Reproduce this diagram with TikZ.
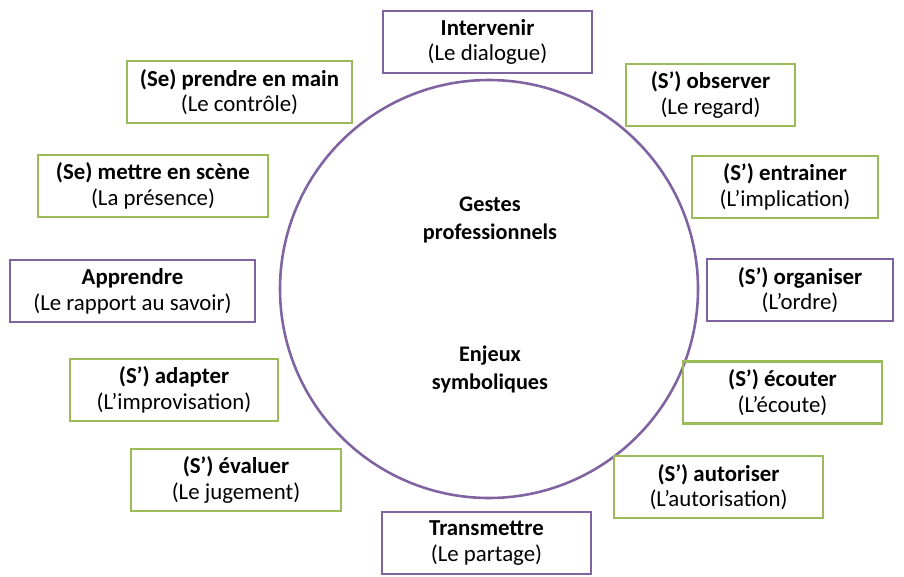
\documentclass[tikz,border=0pt]{standalone}
\usepackage{fontspec}
\setmainfont{Carlito}
\definecolor{violet}{RGB}{128,100,162}
\definecolor{vert}{RGB}{155,187,89}
\tikzset{
  geste/.style={shape=rectangle, line width=1.9pt, align=center, inner sep=0pt,
    minimum height=53pt, font=\fontsize{19.5}{22}\selectfont},
  gv/.style={geste, draw=violet},
  gg/.style={geste, draw=vert}
}
\begin{document}
\begin{tikzpicture}[x=0.03cm, y=-0.03cm]
%%%%%%%%%%%%%%%%%%%%%%%%%%%%%%%%%%%%%%%%%%% HELP LINES
%\draw[help lines] (0,0) grid +(904,576);
\useasboundingbox (0,0) rectangle (904,576);

%%%%%%%%%%%%%%%%%%%%%%%%%%%%%%%%%%%%%%%%%%% cercle
\node[circle, draw=violet, line width=2.2pt, minimum size=418*0.03cm, inner sep=0pt](cercle) at (489,289){};
\node[align=center, font=\fontsize{19}{24}\selectfont\bfseries](gestes) at (490,220){Gestes\\professionnels};
\node[align=center, font=\fontsize{19}{24}\selectfont\bfseries](enjeux) at (490,369){Enjeux\\symboliques};

%%%%% gestes (violet)
\node[gv, minimum width=209*0.03cm](intervenir) at (487.5,42){\textbf{Intervenir}\\(Le dialogue)};
\node[gv, minimum width=245*0.03cm](apprendre) at (132.5,291){\textbf{Apprendre}\\(Le rapport au savoir)};
\node[gv, minimum width=186*0.03cm](organiser) at (800,290){\textbf{(S’) organiser}\\(L’ordre)};
\node[gv, minimum width=209*0.03cm](transmettre) at (486.5,543){\textbf{Transmettre}\\(Le partage)};

%%%%% gestes (vert)
\node[gg, minimum width=225*0.03cm](prendre) at (239.5,92){\textbf{(Se) prendre en main}\\(Le contrôle)};
\node[gg, minimum width=169*0.03cm](observer) at (710.5,95){\textbf{(S’) observer}\\(Le regard)};
\node[gg, minimum width=230*0.03cm](scene) at (153,186){\textbf{(Se) mettre en scène}\\(La présence)};
\node[gg, minimum width=186*0.03cm](entrainer) at (785,187){\textbf{(S’) entrainer}\\(L’implication)};
\node[gg, minimum width=208*0.03cm](adapter) at (174,390){\textbf{(S’) adapter}\\(L’improvisation)};
\node[gg, minimum width=199*0.03cm](ecouter) at (782.5,392.5){\textbf{(S’) écouter}\\(L’écoute)};
\node[gg, minimum width=210*0.03cm](evaluer) at (236,480){\textbf{(S’) évaluer}\\(Le jugement)};
\node[gg, minimum width=209*0.03cm](autoriser) at (718.5,487){\textbf{(S’) autoriser}\\(L’autorisation)};
\end{tikzpicture}
\end{document}
